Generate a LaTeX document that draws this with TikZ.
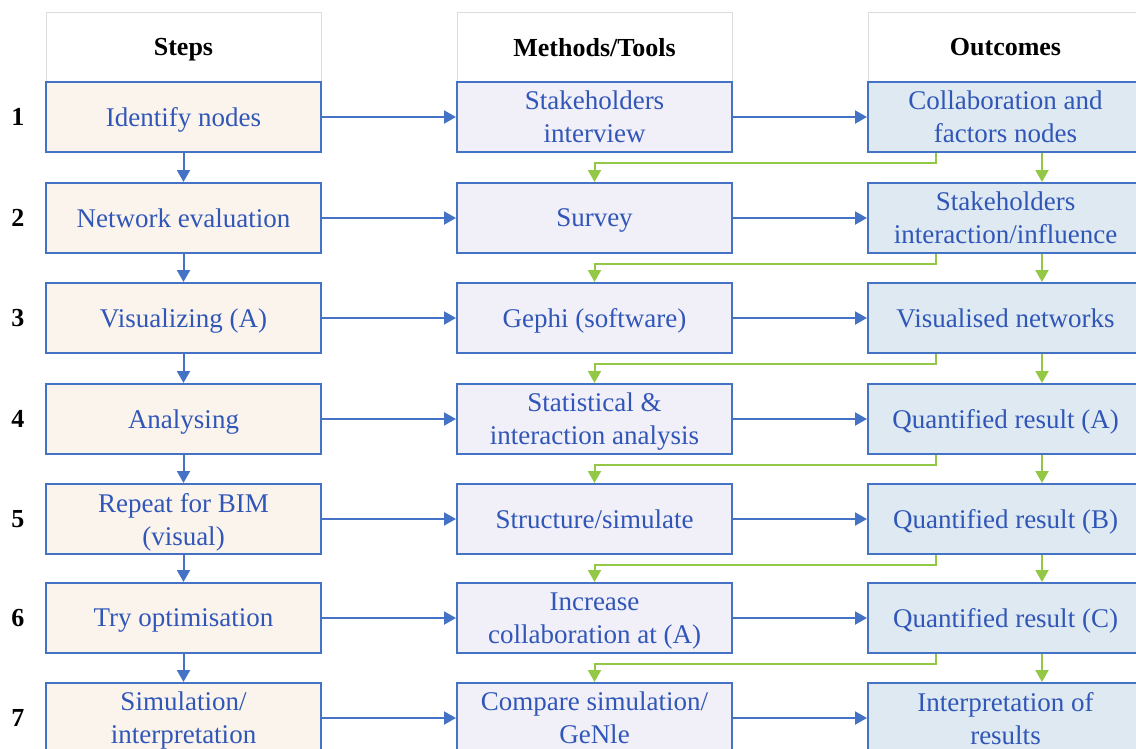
\documentclass[tikz,border=0pt]{standalone}
\usepackage{fontspec}
\setmainfont{Liberation Serif}
\usetikzlibrary{arrows.meta,calc}
\definecolor{bborder}{RGB}{68,114,196}
\definecolor{btext}{RGB}{48,86,184}
\definecolor{gline}{RGB}{146,200,70}
\definecolor{fillA}{RGB}{251,244,236}
\definecolor{fillB}{RGB}{241,239,247}
\definecolor{fillC}{RGB}{222,233,241}
\definecolor{hborder}{RGB}{220,220,220}
\tikzset{
  basebox/.style={draw=bborder, line width=2pt, minimum width=275pt, minimum height=70pt, inner sep=0pt, align=center, text=btext, text depth=0pt, font=\fontsize{27}{33}\selectfont},
  boxA/.style={basebox, fill=fillA},
  boxB/.style={basebox, fill=fillB},
  boxC/.style={basebox, fill=fillC},
  headbox/.style={draw=hborder, line width=1pt, fill=white, minimum width=275pt, minimum height=70pt, inner sep=0pt, text depth=0pt, font=\fontsize{26}{30}\selectfont\bfseries},
  numlab/.style={font=\fontsize{26}{30}\selectfont\bfseries, inner sep=0pt, text depth=0pt},
  barrow/.style={draw=bborder, line width=2pt, -{Triangle[length=12pt,width=13pt]}},
  garrow/.style={draw=gline, line width=2pt, -{Triangle[length=12pt,width=13pt]}}
}
\begin{document}
\begin{tikzpicture}[x=1pt,y=-1pt]
\useasboundingbox (0,0) rectangle (1136,748);
\clip (0,0) rectangle (1136,748);
% headers
\node[headbox] (h1) at (183.5,47) {Steps};
\node[headbox] (h2) at (594.5,47) {Methods/Tools};
\node[headbox] (h3) at (1005.5,47) {Outcomes};
% rows
\node[boxA] (s1) at (183.5,117) {Identify nodes};
\node[boxB] (m1) at (594.5,117) {Stakeholders\\interview};
\node[boxC] (o1) at (1005.5,117) {Collaboration and\\factors nodes};
\node[boxA] (s2) at (183.5,218) {Network evaluation};
\node[boxB] (m2) at (594.5,218) {Survey};
\node[boxC] (o2) at (1005.5,218) {Stakeholders\\interaction/influence};
\node[boxA] (s3) at (183.5,318) {Visualizing (A)};
\node[boxB] (m3) at (594.5,318) {Gephi (software)};
\node[boxC] (o3) at (1005.5,318) {Visualised networks};
\node[boxA] (s4) at (183.5,419) {Analysing};
\node[boxB] (m4) at (594.5,419) {Statistical \&\\interaction analysis};
\node[boxC] (o4) at (1005.5,419) {Quantified result (A)};
\node[boxA] (s5) at (183.5,519) {Repeat for BIM\\(visual)};
\node[boxB] (m5) at (594.5,519) {Structure/simulate};
\node[boxC] (o5) at (1005.5,519) {Quantified result (B)};
\node[boxA] (s6) at (183.5,618) {Try optimisation};
\node[boxB] (m6) at (594.5,618) {Increase\\collaboration at (A)};
\node[boxC] (o6) at (1005.5,618) {Quantified result (C)};
\node[boxA] (s7) at (183.5,718) {Simulation/\\interpretation};
\node[boxB] (m7) at (594.5,718) {Compare simulation/\\GeNle};
\node[boxC] (o7) at (1005.5,718) {Interpretation of\\results};
% numbers
\foreach \i/\y in {1/117,2/218,3/318,4/419,5/519,6/618,7/718}{
  \node[numlab] (n\i) at (18,\y) {\i};
}
% blue arrows
\foreach \i in {1,...,7}{
  \draw[barrow] (s\i.east) -- (m\i.west);
  \draw[barrow] (m\i.east) -- (o\i.west);
}
\foreach \i/\j in {1/2,2/3,3/4,4/5,5/6,6/7}{
  \draw[barrow] (s\i.south) -- (s\j.north);
  \draw[garrow] ([xshift=69pt]o\i.south west) -- ++(0,10) -| (m\j.north);
  \draw[garrow] ([xshift=175pt]o\i.south west) -- ([xshift=175pt]o\j.north west);
}
\end{tikzpicture}
\end{document}
